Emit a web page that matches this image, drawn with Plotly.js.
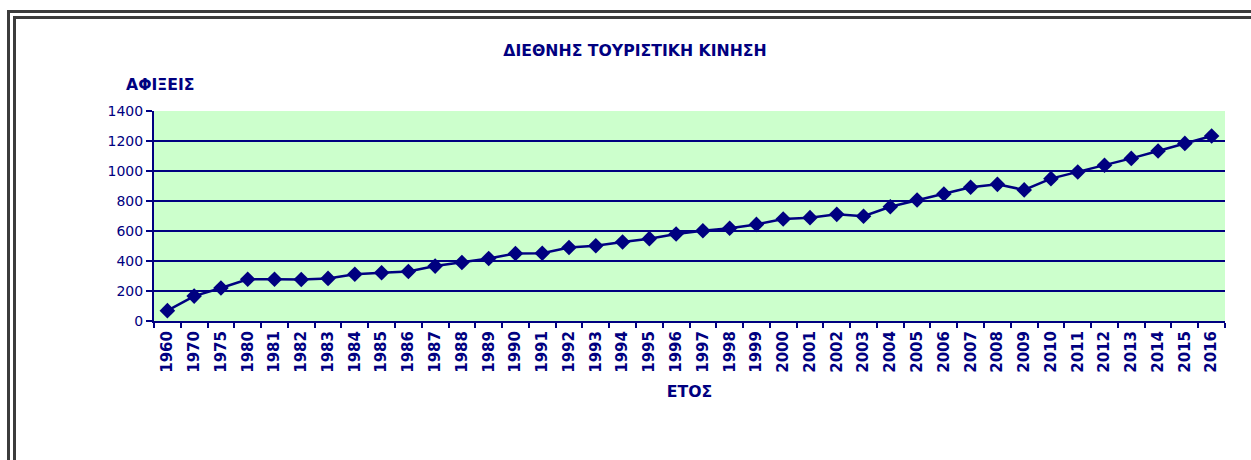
<!DOCTYPE html>
<html>
<head>
<meta charset="utf-8">
<script src="https://cdn.plot.ly/plotly-3.0.1.min.js"></script>
<style>
  html, body { margin: 0; padding: 0; background: #ffffff; }
  #wrap { position: relative; width: 1251px; height: 460px; overflow: hidden; }
  #frame1 { position: absolute; left: 7px; top: 10px; width: 1400px; height: 600px;
            border-top: 3px solid #3c3c3c; border-left: 3px solid #3c3c3c; }
  #frame2 { position: absolute; left: 13px; top: 16px; width: 1400px; height: 600px;
            border-top: 3px solid #3c3c3c; border-left: 3px solid #3c3c3c; }
  #chart { position: absolute; left: 0; top: 0; width: 1251px; height: 460px; }
</style>
</head>
<body>
<div id="wrap">
  <div id="frame1"></div>
  <div id="frame2"></div>
  <div id="chart"></div>
</div>
<script>
const years = ["1960","1970","1975","1980","1981","1982","1983","1984","1985","1986",
  "1987","1988","1989","1990","1991","1992","1993","1994","1995","1996",
  "1997","1998","1999","2000","2001","2002","2003","2004","2005","2006",
  "2007","2008","2009","2010","2011","2012","2013","2014","2015","2016"];
const arrivals = [69, 166, 220, 278, 278, 277, 284, 312, 322, 330,
  366, 390, 417, 450, 452, 490, 502, 527, 549, 580,
  602, 618, 644, 680, 689, 711, 698, 762, 807, 847,
  892, 911, 874, 949, 993, 1038, 1084, 1133, 1184, 1233];
const chartTitle = "ΔΙΕΘΝΗΣ ΤΟΥΡΙΣΤΙΚΗ ΚΙΝΗΣΗ";
const yTitle = "ΑΦΙΞΕΙΣ";
const xTitle = "ΕΤΟΣ";

const navy = "#000080";
const font = "DejaVu Sans, Verdana, sans-serif";

const plotLeft = 154, plotRight = 1225, plotTop = 111, plotBottom = 321;
const plotW = plotRight - plotLeft, plotH = plotBottom - plotTop;

const trace = {
  type: "scatter",
  mode: "lines+markers",
  x: years,
  y: arrivals,
  line: { color: navy, width: 2.5 },
  marker: { symbol: "diamond", size: 12, color: navy, line: { width: 0 } },
  hoverinfo: "x+y"
};

const layout = {
  width: 1251,
  height: 460,
  paper_bgcolor: "rgba(0,0,0,0)",
  plot_bgcolor: "#CCFFCC",
  margin: { l: plotLeft, r: 1251 - plotRight, t: plotTop, b: 460 - plotBottom, pad: 0 },
  showlegend: false,
  font: { family: font, color: navy },
  title: {
    text: chartTitle,
    font: { family: font, size: 15.7, color: navy, weight: "bold" },
    xref: "container", yref: "container",
    x: 635 / 1251, xanchor: "center",
    y: 1 - 51 / 460, yanchor: "middle"
  },
  xaxis: {
    type: "category",
    range: [-0.5, years.length - 0.5],
    autorange: false,
    showgrid: false,
    showline: true, linecolor: navy, linewidth: 2,
    ticks: "outside", tickson: "boundaries", ticklen: 5, tickwidth: 2, tickcolor: navy,
    tickangle: -90,
    ticklabelstandoff: 2,
    tickfont: { family: font, size: 15, color: navy, weight: "bold" },
    title: { text: xTitle, font: { family: font, size: 15.7, color: navy, weight: "bold" }, standoff: 14 },
    zeroline: false,
    fixedrange: true
  },
  yaxis: {
    range: [0, 1400],
    autorange: false,
    dtick: 200,
    showgrid: true, gridcolor: navy, gridwidth: 2,
    showline: true, linecolor: navy, linewidth: 2,
    ticks: "outside", ticklen: 6, tickwidth: 2, tickcolor: navy,
    tickfont: { family: font, size: 14, color: navy },
    zeroline: false,
    fixedrange: true
  },
  annotations: [{
    text: yTitle,
    xref: "paper", yref: "paper",
    x: (160 - plotLeft) / plotW, xanchor: "center",
    y: (plotBottom - 84) / plotH, yanchor: "middle",
    showarrow: false,
    font: { family: font, size: 15.7, color: navy, weight: "bold" }
  }]
};

Plotly.newPlot("chart", [trace], layout, { displayModeBar: false, staticPlot: true });
</script>
</body>
</html>
